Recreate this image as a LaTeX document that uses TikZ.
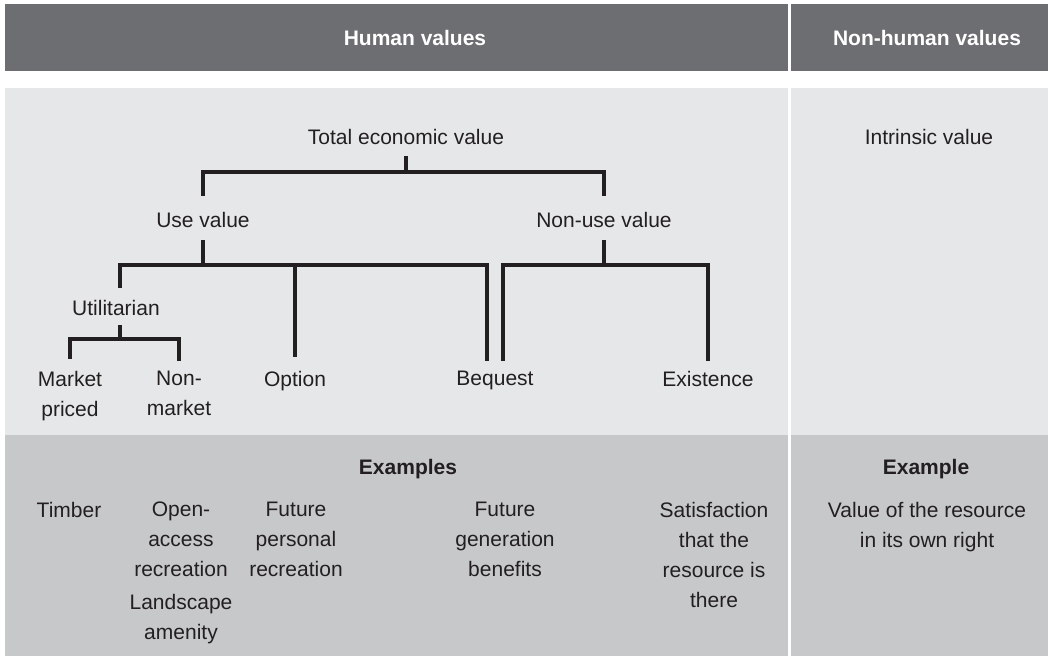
\documentclass[tikz,border=0pt]{standalone}
\usepackage{fontspec}
\setmainfont{Liberation Sans}
\usetikzlibrary{calc}
\definecolor{HdrGrey}{HTML}{6D6E71}
\definecolor{PaleGrey}{HTML}{E6E7E8}
\definecolor{MidGrey}{HTML}{C7C8CA}
\definecolor{InkGrey}{HTML}{231F20}
\tikzset{
  lbl/.style={font=\fontsize{21}{30}\selectfont, text=InkGrey, inner sep=0pt, align=center, anchor=north},
  boldlbl/.style={lbl, font=\fontsize{21}{30}\selectfont\bfseries},
  hdr/.style={font=\fontsize{21}{30}\selectfont\bfseries, text=white, inner sep=0pt},
  branch/.style={line width=3.2pt, draw=InkGrey},
}

\begin{document}
\begin{tikzpicture}[x=1pt, y=-1pt]
      \useasboundingbox (0,0) rectangle (1048,657);
      \fill[HdrGrey] (5,4) rectangle (788,71);
      \fill[HdrGrey] (791,4) rectangle (1048,71);
      \fill[PaleGrey] (5,88) rectangle (788,435);
      \fill[PaleGrey] (791,88) rectangle (1048,435);
      \fill[MidGrey] (5,435) rectangle (788,656);
      \fill[MidGrey] (791,435) rectangle (1048,656);
      \node[hdr] (human) at (415,38) {Human values};
      \node[hdr] (nonhuman) at (927,38) {Non-human values};
      \node[lbl] (tev) at (406,129) {Total economic value};
      \node[lbl] (use) at (203,212) {Use value};
      \node[lbl] (nonuse) at (604,212) {Non-use value};
      \node[lbl] (util) at (116,300) {Utilitarian};
      \node[lbl] (market) at (70,371) {Market\\priced};
      \node[lbl] (nonmkt) at (179,371) {Non-\\market};
      \node[lbl] (option) at (295,371) {Option};
      \node[lbl] (bequest) at (495,371) {Bequest};
      \node[lbl] (exist) at (708,371) {Existence};
      \node[lbl] (intrinsic) at (929,129) {Intrinsic value};
      \node[boldlbl] (examples) at (408,459) {Examples};
      \node[boldlbl] (example) at (926,459) {Example};
      \node[lbl] (timber) at (69,502) {Timber};
      \node[lbl] (openacc) at (181,502) {Open-\\access\\recreation\\[3pt]Landscape\\amenity};
      \node[lbl] (futpers) at (296,502) {Future\\personal\\recreation};
      \node[lbl] (futgen) at (505,502) {Future\\generation\\benefits};
      \node[lbl] (satisf) at (714,502) {Satisfaction\\that the\\resource is\\there};
      \node[lbl] (valres) at (927,502) {Value of the resource\\in its own right};
      \coordinate (lv1) at (0,172);
      \coordinate (lv2) at (0,265);
      \coordinate (lv3) at (0,339);
      \coordinate (utilDrop) at ([xshift=4pt]util.north);
      \coordinate (bqL) at ([xshift=-8pt]bequest.north);
      \coordinate (bqR) at ([xshift=8pt]bequest.north);
      \draw[branch, shorten <=11pt] (tev.south) -- (tev.south |- lv1);
      \draw[branch, shorten <=16pt, shorten >=16pt] (use.north) -- (use.north |- lv1) -- (nonuse.north |- lv1) -- (nonuse.north);
      \draw[branch, shorten <=12pt] (use.south) -- (use.south |- lv2);
      \draw[branch, shorten <=12pt, shorten >=10pt] (utilDrop) -- (utilDrop |- lv2) -- (bqL |- lv2) -- (bqL);
      \draw[branch, shorten >=14pt] (option.north |- lv2) -- (option.north);
      \draw[branch, shorten <=12pt] (nonuse.south) -- (nonuse.south |- lv2);
      \draw[branch, shorten <=10pt, shorten >=10pt] (bqR) -- (bqR |- lv2) -- (exist.north |- lv2) -- (exist.north);
      \draw[branch, shorten <=9pt] ([xshift=4pt]util.south) -- ([xshift=4pt]util.south |- lv3);
      \draw[branch, shorten <=12pt, shorten >=10pt] (market.north) -- (market.north |- lv3) -- (nonmkt.north |- lv3) -- (nonmkt.north);
    \end{tikzpicture}
\end{document}
